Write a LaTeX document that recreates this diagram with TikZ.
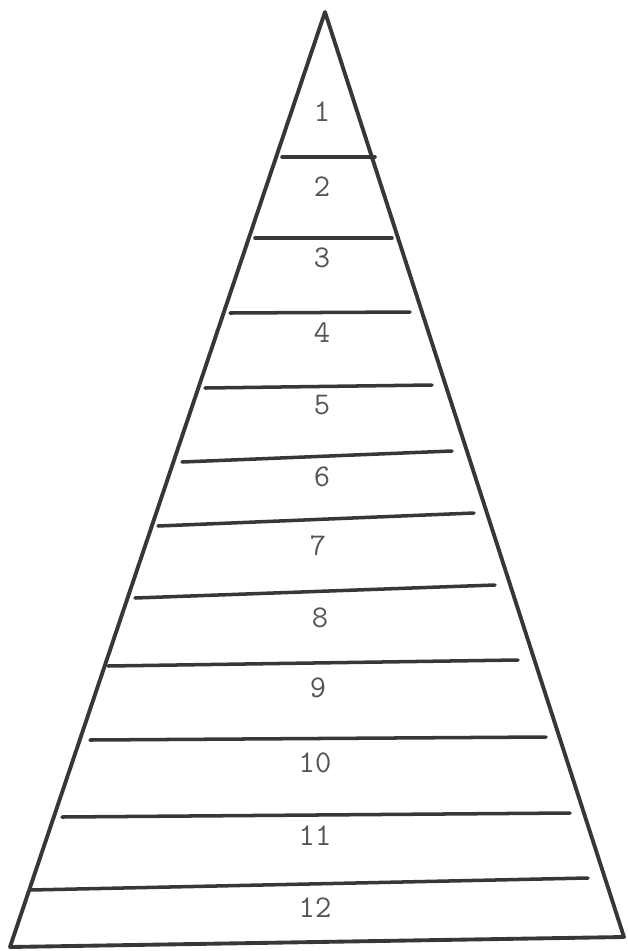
\documentclass[tikz,border=0pt]{standalone}
\usepackage{fontspec}
\usetikzlibrary{calc}
\definecolor{pencil}{RGB}{55,55,55}

\begin{document}
\begin{tikzpicture}[x=0.02cm, y=-0.02cm]
  \tikzset{
      edge/.style={draw=pencil, line width=2.2pt, line join=round},
      rung/.style={draw=pencil, line width=2pt, line cap=round},
      band/.style={font=\ttfamily\fontsize{18}{20}\selectfont, text=pencil!85}
  }
  \useasboundingbox (0,0) rectangle (628,951);

  % outline
  \coordinate (apex) at (325, 12);
  \coordinate (bl)   at (10, 947);
  \coordinate (br)   at (624, 937);
  \draw[edge] (bl) -- (apex) -- (br) -- cycle;

  % dividing lines
  \draw[rung] (282, 157) -- (375, 157);
  \draw[rung] (255, 238) -- (392, 238);
  \draw[rung] (230, 313) -- (410, 312);
  \draw[rung] (205, 388) -- (432, 385);
  \draw[rung] (182, 462) -- (452, 451);
  \draw[rung] (158, 526) -- (474, 513);
  \draw[rung] (135, 598) -- (495, 585);
  \draw[rung] (108, 666) -- (518, 660);
  \draw[rung] (90, 740)  -- (546, 737);
  \draw[rung] (62, 817)  -- (570, 813);
  \draw[rung] (30, 890)  -- (588, 878);

  % band numbers
  \foreach \n/\x/\y in {1/322/112, 2/322/187, 3/322/258, 4/322/333, 5/322/405, 6/322/477,
                         7/318/546, 8/320/618, 9/318/688, 10/315/763, 11/315/836, 12/315/908}
      \node[band] (b\n) at (\x, \y) {\n};
\end{tikzpicture}
\end{document}
